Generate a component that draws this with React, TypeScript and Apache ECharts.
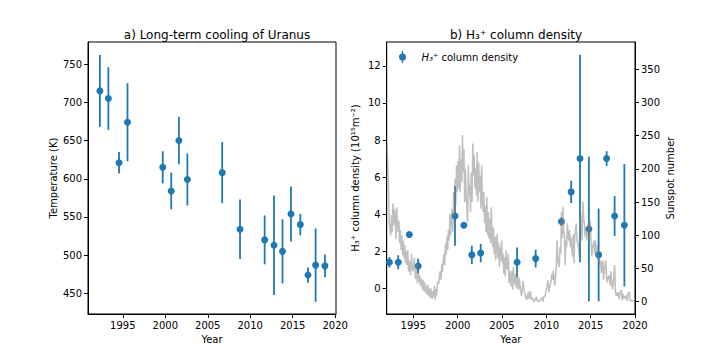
import React, { useEffect, useRef } from "react";
import * as echarts from "echarts";

const years = [1992.3, 1993.3, 1994.55, 1995.55, 1999.7, 2000.7, 2001.6, 2002.6, 2006.7, 2008.8, 2011.7, 2012.8, 2013.8, 2014.8, 2015.9, 2016.8, 2017.7, 2018.8];
const temperature = [715, 705, 621, 674, 615, 584, 650, 599, 608, 534, 520, 513, 505, 554, 540, 474, 487, 486];
const temperatureErr = [47, 41, 14, 51, 21, 24, 31, 34, 40, 39, 32, 65, 42, 36, 14, 10, 48, 15];
const h3Density = [1.4, 1.4, 2.9, 1.2, 3.9, 3.4, 1.8, 1.9, 1.4, 1.6, 3.6, 5.2, 7.0, 3.2, 1.8, 7.0, 3.9, 3.4];
const h3Err = [0.28, 0.38, 0.1, 0.4, 1.6, 0.1, 0.5, 0.5, 0.8, 0.48, 0.22, 0.6, 5.6, 3.9, 2.5, 0.4, 1.08, 3.3];

const sunspotStartYear = 1992;
const sunspotMonthly = [
  236, 200, 170, 118, 112, 100, 130, 105, 148, 115, 140, 125,
  95, 142, 120, 105, 122, 88, 108, 78, 100, 70, 92, 65,
  85, 58, 75, 55, 78, 45, 62, 50, 40, 72, 52, 46,
  55, 66, 38, 34, 57, 28, 44, 30, 40, 24, 36, 27,
  18, 33, 16, 29, 14, 23, 11, 26, 9, 19, 6, 21,
  12, 4, 16, 7, 24, 3, 19, 9, 26, 31, 27, 40,
  46, 33, 57, 45, 63, 72, 55, 88, 70, 98, 78, 108,
  92, 132, 100, 128, 140, 105, 165, 130, 185, 145, 205, 165,
  212, 170, 235, 165, 215, 180, 251, 195, 230, 150, 200, 165,
  140, 120, 205, 160, 175, 135, 195, 150, 238, 190, 220, 170,
  200, 160, 225, 150, 210, 165, 190, 140, 205, 155, 135, 165,
  118, 145, 105, 158, 100, 135, 95, 125, 88, 142, 100, 82,
  112, 72, 98, 62, 84, 102, 66, 88, 52, 82, 62, 92,
  58, 72, 42, 67, 38, 77, 52, 48, 72, 28, 46, 38,
  23, 47, 18, 52, 33, 26, 42, 20, 46, 28, 18, 36,
  24, 14, 9, 19, 31, 21, 14, 11, 4, 10, 3, 15,
  7, 4, 16, 6, 3, 6, 1, 0, 2, 5, 8, 1,
  2, 1, 0, 1, 4, 5, 6, 0, 8, 7, 10, 16,
  21, 27, 32, 14, 21, 26, 30, 42, 33, 47, 34, 24,
  38, 52, 92, 62, 58, 52, 82, 72, 135, 96, 143, 105,
  102, 55, 92, 82, 118, 98, 92, 108, 82, 97, 78, 68,
  102, 58, 98, 108, 118, 92, 88, 82, 68, 122, 132, 112,
  92, 151, 128, 118, 98, 112, 92, 106, 118, 92, 112, 122,
  93, 68, 82, 86, 92, 72, 92, 72, 68, 86, 62, 66,
  54, 62, 43, 56, 62, 33, 46, 56, 62, 38, 29, 36,
  40, 34, 24, 46, 29, 19, 24, 41, 55, 14, 9, 14,
  9, 14, 4, 12, 15, 18, 2, 12, 5, 8, 7, 4,
  10, 1, 12, 15, 12, 1, 2, 1, 1, 1, 1, 2,
];

const yearTicks = [1995, 2000, 2005, 2010, 2015, 2020];
const tempTicks = [450, 500, 550, 600, 650, 700, 750];
const densityTicks = [0, 2, 4, 6, 8, 10, 12];
const sunspotTicks = [0, 50, 100, 150, 200, 250, 300, 350];

const FONT = "DejaVu Sans";
const BLUE = "#1f77b4";

function valueAxis(extra: any, ticks: number[]) {
  return {
    type: "value",
    splitLine: { show: false },
    axisLine: { show: true, onZero: false, lineStyle: { color: "#000", width: 1 } },
    axisTick: { show: true, length: 4, inside: false, customValues: ticks, lineStyle: { color: "#000", width: 1 } },
    axisLabel: {
      customValues: ticks,
      color: "#000",
      fontSize: 10,
      fontFamily: FONT,
      margin: 6,
      formatter: (v: number) => String(v),
    },
    nameLocation: "middle",
    nameTextStyle: { color: "#000", fontSize: 10, fontFamily: FONT },
    ...extra,
  };
}

function errorBarSeries(xIdx: number, yIdx: number, vals: number[], errs: number[]) {
  return {
    type: "custom",
    xAxisIndex: xIdx,
    yAxisIndex: yIdx,
    z: 2,
    silent: true,
    data: years.map((y, i) => [y, vals[i] - errs[i], vals[i] + errs[i]]),
    renderItem: (params: any, api: any) => {
      const lo = api.coord([api.value(0), api.value(1)]);
      const hi = api.coord([api.value(0), api.value(2)]);
      return {
        type: "line",
        shape: { x1: lo[0], y1: lo[1], x2: hi[0], y2: hi[1] },
        style: { stroke: BLUE, lineWidth: 1.8 },
      };
    },
  };
}

export default function App() {
  const ref = useRef<HTMLDivElement>(null);
  useEffect(() => {
    if (!ref.current) return;
    const chart = echarts.init(ref.current, null, { renderer: "svg" });
    const option: any = {
      animation: false,
      backgroundColor: "#fff",
      textStyle: { fontFamily: FONT },
      title: [
        {
          text: "a) Long-term cooling of Uranus",
          left: 212,
          top: 24,
          textAlign: "center",
          textStyle: { fontSize: 12, fontWeight: "normal", color: "#000", fontFamily: FONT },
        },
        {
          text: "b) H₃⁺ column density",
          left: 511,
          top: 24,
          textAlign: "center",
          textStyle: { fontSize: 12, fontWeight: "normal", color: "#000", fontFamily: FONT },
        },
      ],
      legend: {
        left: 394,
        top: 46,
        itemWidth: 8,
        itemHeight: 12,
        data: [{ name: "H3+ column density", icon: "path://M3.3,0 L4.7,0 L4.7,12 L3.3,12 Z M7.5,6 A3.5,3.5 0 1 1 0.5,6 A3.5,3.5 0 1 1 7.5,6 Z" }],
        formatter: () => "{i|H₃⁺}{n| column density}",
        textStyle: {
          color: "#000",
          fontSize: 10,
          fontFamily: FONT,
          rich: {
            i: { fontStyle: "italic", fontSize: 10, fontFamily: FONT, color: "#000", padding: [0, 0, 0, 10] },
            n: { fontSize: 10, fontFamily: FONT, color: "#000" },
          },
        },
      },
      grid: [
        { left: 88, top: 42, width: 248, height: 272, show: true, borderColor: "#000", borderWidth: 1, backgroundColor: "transparent" },
        { left: 386.7, top: 42, width: 248.3, height: 272, show: true, borderColor: "#000", borderWidth: 1, backgroundColor: "transparent" },
      ],
      xAxis: [
        valueAxis({ gridIndex: 0, min: 1990.9, max: 2020.1, name: "Year", nameGap: 20 }, yearTicks),
        valueAxis({ gridIndex: 1, min: 1992, max: 2020, name: "Year", nameGap: 20 }, yearTicks),
      ],
      yAxis: [
        valueAxis({ gridIndex: 0, min: 423, max: 779, name: "Temperature (K)", nameGap: 30 }, tempTicks),
        valueAxis({ gridIndex: 1, min: -1.39, max: 13.29, name: "H₃⁺ column density (10¹⁵m⁻²)", nameGap: 26 }, densityTicks),
        valueAxis({ gridIndex: 1, min: -18.5, max: 391, position: "right", name: "Sunspot number", nameGap: 30, nameRotate: 90 }, sunspotTicks),
      ],
      series: [
        errorBarSeries(0, 0, temperature, temperatureErr),
        {
          type: "scatter",
          name: "Temperature",
          xAxisIndex: 0,
          yAxisIndex: 0,
          symbol: "circle",
          symbolSize: 7,
          z: 2,
          itemStyle: { color: BLUE, opacity: 1 },
          data: years.map((y, i) => [y, temperature[i]]),
        },
        errorBarSeries(1, 1, h3Density, h3Err),
        {
          type: "scatter",
          name: "H3+ column density",
          xAxisIndex: 1,
          yAxisIndex: 1,
          symbol: "circle",
          symbolSize: 7,
          z: 2,
          itemStyle: { color: BLUE, opacity: 1 },
          data: years.map((y, i) => [y, h3Density[i]]),
        },
        {
          type: "line",
          name: "Sunspots",
          xAxisIndex: 1,
          yAxisIndex: 2,
          showSymbol: false,
          symbol: "none",
          z: 3,
          silent: true,
          lineStyle: { color: "rgba(128,128,128,0.5)", width: 1.5 },
          data: sunspotMonthly.map((v, i) => [sunspotStartYear + (i + 0.5) / 12, v]),
        },
      ],
    };
    chart.setOption(option);
    return () => chart.dispose();
  }, []);
  return <div ref={ref} style={{ position: "fixed", left: 0, top: 0, width: 706, height: 353 }} />;
}
